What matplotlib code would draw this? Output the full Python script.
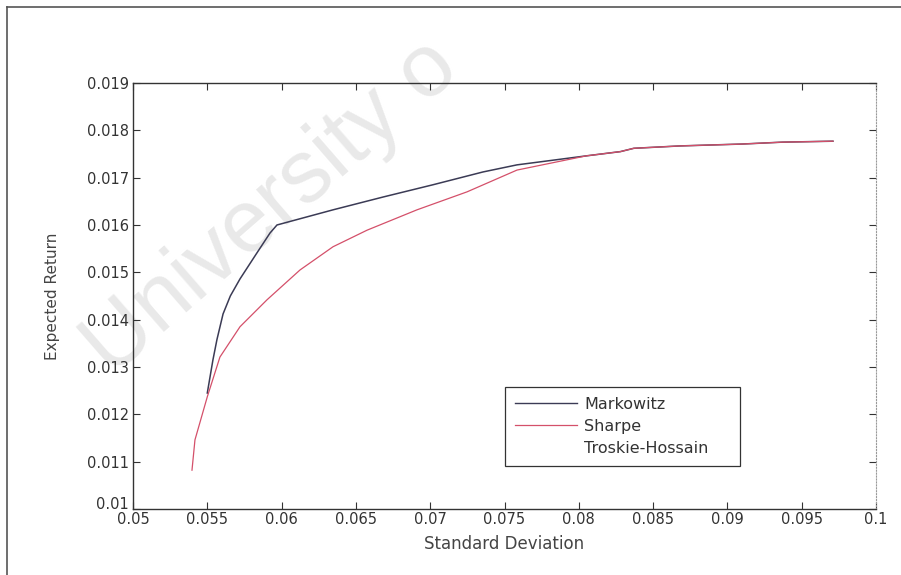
import matplotlib.pyplot as plt
import matplotlib.transforms as mtransforms
from matplotlib.lines import Line2D

plt.rcParams['font.family'] = ['DejaVu Sans']

# efficient frontier points (std dev, expected return)
markowitz_sd = [0.0550, 0.05538, 0.05565, 0.05606, 0.05655, 0.0572, 0.05834,
                0.05922, 0.05969, 0.06346, 0.06682, 0.07019, 0.07355, 0.07584,
                0.0805, 0.0828, 0.0837, 0.0868, 0.0910, 0.0937, 0.0971]
markowitz_ret = [0.01245, 0.01315, 0.01358, 0.01412, 0.01450, 0.01486, 0.01541,
                 0.01583, 0.0160, 0.01632, 0.01659, 0.01685, 0.01712, 0.01727,
                 0.01746, 0.01755, 0.01762, 0.01767, 0.01771, 0.01775, 0.01777]

sharpe_sd = [0.05397, 0.05417, 0.0550, 0.05585, 0.0572, 0.05902, 0.06124,
             0.06346, 0.06575, 0.06911, 0.07248, 0.07584, 0.0805, 0.0828,
             0.0837, 0.0868, 0.0910, 0.0937, 0.0971]
sharpe_ret = [0.01082, 0.01146, 0.01237, 0.01321, 0.01385, 0.01442, 0.01505,
              0.01554, 0.01589, 0.01632, 0.0167, 0.01716, 0.01746, 0.01755,
              0.01762, 0.01767, 0.01771, 0.01775, 0.01777]

series_names = ["Markowitz", "Sharpe", "Troskie-Hossain"]
xticks = [0.05, 0.055, 0.06, 0.065, 0.07, 0.075, 0.08, 0.085, 0.09, 0.095, 0.1]
xtick_labels = ["0.05", "0.055", "0.06", "0.065", "0.07", "0.075", "0.08",
                "0.085", "0.09", "0.095", "0.1"]
yticks = [0.01, 0.011, 0.012, 0.013, 0.014, 0.015, 0.016, 0.017, 0.018, 0.019]
ytick_labels = ["0.01", "0.011", "0.012", "0.013", "0.014", "0.015", "0.016",
                "0.017", "0.018", "0.019"]

fig = plt.figure(figsize=(9.01, 5.75), dpi=100)

# page frame from the scan
fig.add_artist(Line2D([0.0078, 0.0078], [0, 0.988], transform=fig.transFigure,
                      color='#555555', lw=1.2))
fig.add_artist(Line2D([0.0078, 1], [0.988, 0.988], transform=fig.transFigure,
                      color='#555555', lw=1.2))

# watermark
wm = fig.text(112 / 901, 1 - 378 / 575, "University o", fontsize=64,
              family='Liberation Sans', color='#e9e9e9', rotation=41,
              rotation_mode='anchor', ha='left', va='baseline')
wm.set_zorder(-1)

ax = fig.add_axes([0.1476, 0.1148, 0.8247, 0.7409])
ax.patch.set_alpha(0)

ax.plot(markowitz_sd, markowitz_ret, color='#3b3b55', lw=1.1)
ax.plot(sharpe_sd, sharpe_ret, color='#d4506a', lw=0.9)

ax.set_xlim(0.05, 0.1)
ax.set_ylim(0.01, 0.019)
ax.set_xticks(xticks)
ax.set_xticklabels(xtick_labels)
ax.set_yticks(yticks)
ax.set_yticklabels(ytick_labels)
ax.tick_params(direction='in', length=5, width=0.8, color='#333333',
               labelsize=10.5, labelcolor='#333333', top=True, right=True)
ax.tick_params(axis='x', pad=2)
ax.tick_params(axis='y', pad=3)

# lift the bottom y label a little so it clears 0.05 below it
lab0 = ax.get_yticklabels()[0]
lab0.set_transform(lab0.get_transform() +
                   mtransforms.ScaledTranslation(0, 4 / 72, fig.dpi_scale_trans))

for side in ['left', 'bottom', 'top']:
    ax.spines[side].set_color('#333333')
    ax.spines[side].set_linewidth(1.0)
ax.spines['right'].set_color('#999999')
ax.spines['right'].set_linestyle(':')

ax.set_xlabel("Standard Deviation", fontsize=12, color='#444444')
ax.set_ylabel("Expected Return", fontsize=11, color='#444444')
ax.xaxis.set_label_coords(0.5, -0.062)
ax.yaxis.set_label_coords(-0.098, 0.5)

handles = [Line2D([], [], color='#3b3b55', lw=1.0),
           Line2D([], [], color='#d4506a', lw=0.9),
           Line2D([], [], color='white', lw=0.9)]
leg = ax.legend(handles, series_names, loc='upper left',
                bbox_to_anchor=(0.5007, 0.0986, 0.316, 0.1878), mode='expand',
                borderaxespad=0, fontsize=11.5, handlelength=3.9,
                handletextpad=0.45, labelspacing=0.45, borderpad=0.6,
                fancybox=False, framealpha=1, edgecolor='#333333',
                labelcolor='#333333')
leg.get_frame().set_linewidth(0.9)

fig.savefig("out.png", dpi=100)
